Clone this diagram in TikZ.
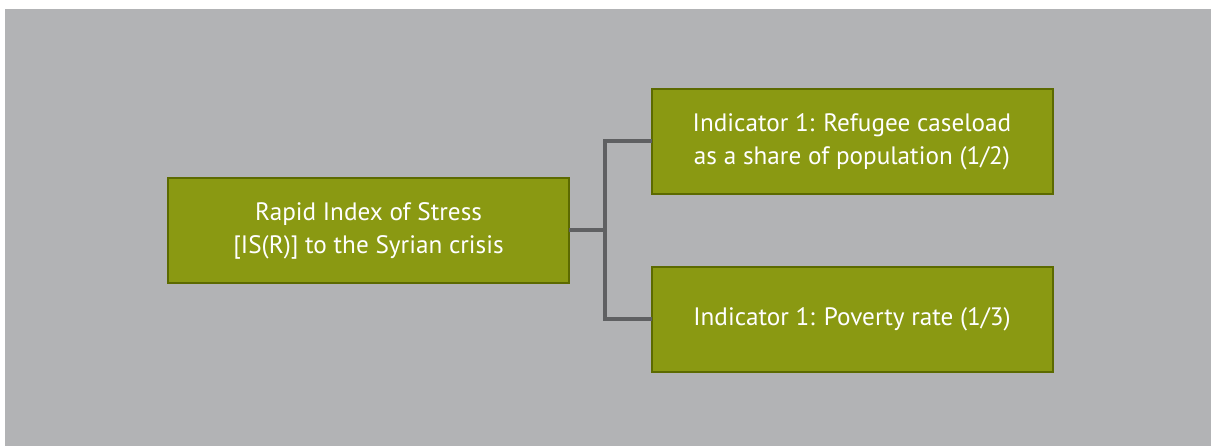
\documentclass[tikz,border=0pt]{standalone}
\usepackage{fontspec}
\setmainfont{PT Sans}
\usetikzlibrary{calc}
\definecolor{bggray}{RGB}{178,179,181}
\definecolor{boxolive}{RGB}{138,153,18}
\definecolor{boxedge}{RGB}{92,106,0}
\definecolor{linkgray}{RGB}{95,96,98}

\begin{document}
\begin{tikzpicture}[x=1pt, y=-1pt,
            box style/.style={
                draw=boxedge, fill=boxolive, line width=2pt, text=white,
                minimum width=401pt, minimum height=105pt, inner sep=0pt, outer sep=0pt,
                align=center, font=\fontsize{25.2}{33}\selectfont
            },
            link style/.style={draw=linkgray, line width=4pt}]
            \useasboundingbox (0, 0) rectangle (1211, 446);
            \fill[bggray] (5, 9) rectangle (1211, 446);

            \coordinate (Root) at (368.5, 230.5);
            \coordinate (Top) at (852, 141.5);
            \coordinate (Bottom) at (852, 319.5);
            \coordinate (J) at (605, 230.5);

            \node[box style] (root) at (Root) {Rapid Index of Stress\\{[IS(R)]} to the Syrian crisis};
            \node[box style] (ind1) at (Top) {Indicator 1: Refugee caseload\\as a share of population (1/2)};
            \node[box style] (ind2) at (Bottom) {Indicator 1: Poverty rate (1/3)};

            \draw[link style] (root.east) -- (J);
            \draw[link style] (ind1.west) -| (J) |- (ind2.west);
        \end{tikzpicture}
\end{document}
